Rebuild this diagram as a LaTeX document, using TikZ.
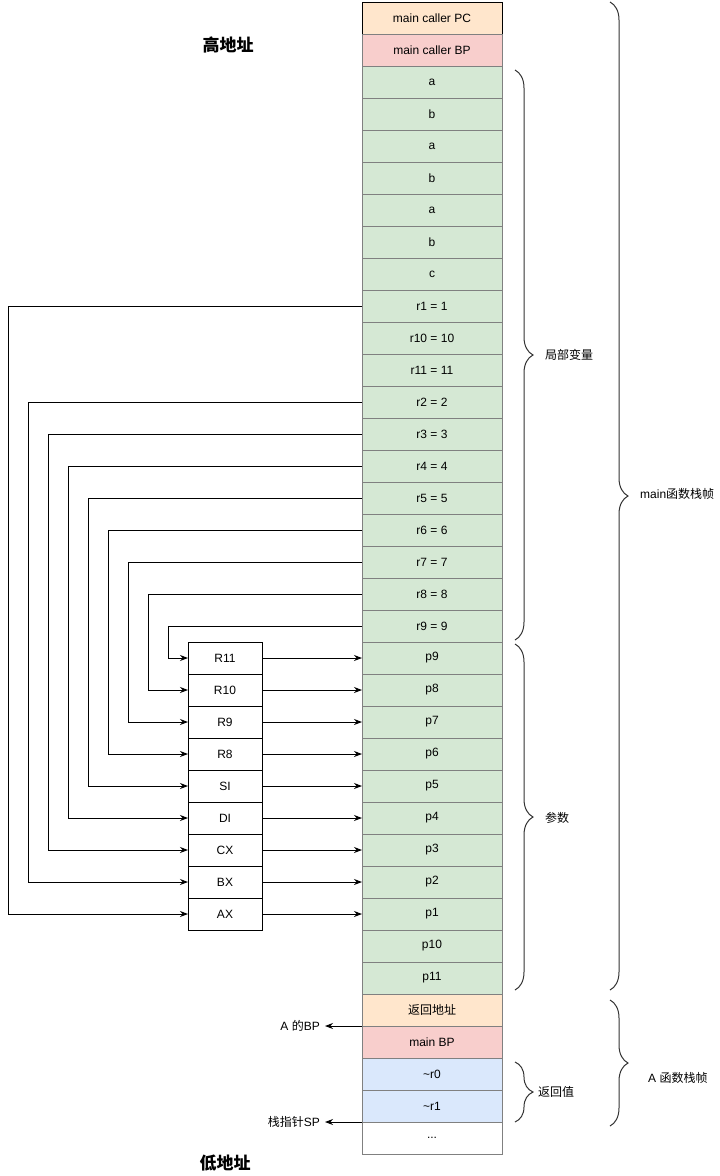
\documentclass[tikz,border=0pt]{standalone}
\usepackage{fontspec}
\setmainfont{Liberation Sans}
\newfontfamily\cjk{Noto Sans CJK SC}
\usepackage{xcolor}
\usetikzlibrary{arrows.meta,positioning,decorations.pathreplacing}

\definecolor{retfill}{HTML}{FFE6CC}
\definecolor{bpfill}{HTML}{F8CECC}
\definecolor{varfill}{HTML}{D5E8D4}
\definecolor{valfill}{HTML}{DAE8FC}

\begin{document}
\begin{tikzpicture}[
  x=1pt,y=-1pt,
  >={Stealth[length=8pt,width=6pt]},
  every node/.style={font=\fontsize{12}{14}\selectfont},
  cell/.style={draw=black!50,line width=1pt,minimum width=140pt,
               minimum height=32pt,inner sep=0pt,outer sep=0pt},
  ret/.style={cell,fill=retfill},
  bp/.style={cell,fill=bpfill},
  var/.style={cell,fill=varfill},
  val/.style={cell,fill=valfill},
  reg/.style={draw,line width=1pt,minimum width=74pt,
              minimum height=32pt,inner sep=0pt,outer sep=0pt},
  link/.style={line width=1pt,->},
  brc/.style={decorate,decoration={brace,amplitude=18pt},
              draw=black!80,line width=1pt},
  tag/.style={anchor=west,inner sep=0pt},
  ptr/.style={anchor=east,inner xsep=5pt,inner ysep=0pt},
  bigtag/.style={font=\cjk\bfseries\fontsize{17}{20}\selectfont}
]
\useasboundingbox (0,0) rectangle (720,1176);

% ---- stack: main frame ----
\node[ret,draw=black] (pc) at (432,18) {main caller PC};
\node[bp,below=0pt of pc]      (callerbp) {main caller BP};
\node[var,below=0pt of callerbp] (a1)  {a};
\node[var,below=0pt of a1]     (b1)  {b};
\node[var,below=0pt of b1]     (a2)  {a};
\node[var,below=0pt of a2]     (b2)  {b};
\node[var,below=0pt of b2]     (a3)  {a};
\node[var,below=0pt of a3]     (b3)  {b};
\node[var,below=0pt of b3]     (c)   {c};
\node[var,below=0pt of c]      (r1)  {r1 = 1};
\node[var,below=0pt of r1]     (r10) {r10 = 10};
\node[var,below=0pt of r10]    (r11) {r11 = 11};
\node[var,below=0pt of r11]    (r2)  {r2 = 2};
\node[var,below=0pt of r2]     (r3)  {r3 = 3};
\node[var,below=0pt of r3]     (r4)  {r4 = 4};
\node[var,below=0pt of r4]     (r5)  {r5 = 5};
\node[var,below=0pt of r5]     (r6)  {r6 = 6};
\node[var,below=0pt of r6]     (r7)  {r7 = 7};
\node[var,below=0pt of r7]     (r8)  {r8 = 8};
\node[var,below=0pt of r8]     (r9)  {r9 = 9};
\node[var,below=0pt of r9]     (p9)  {p9};
\node[var,below=0pt of p9]     (p8)  {p8};
\node[var,below=0pt of p8]     (p7)  {p7};
\node[var,below=0pt of p7]     (p6)  {p6};
\node[var,below=0pt of p6]     (p5)  {p5};
\node[var,below=0pt of p5]     (p4)  {p4};
\node[var,below=0pt of p4]     (p3)  {p3};
\node[var,below=0pt of p3]     (p2)  {p2};
\node[var,below=0pt of p2]     (p1)  {p1};
\node[var,below=0pt of p1]     (p10) {p10};
\node[var,below=0pt of p10]    (p11) {p11};

% ---- stack: A frame ----
\node[ret,below=0pt of p11]    (retaddr) {\cjk 返回地址};
\node[bp,below=0pt of retaddr] (mainbp)  {main BP};
\node[val,below=0pt of mainbp] (rr0)     {\textasciitilde r0};
\node[val,below=0pt of rr0]    (rr1)     {\textasciitilde r1};
\node[cell,below=0pt of rr1]   (dots)    {...};

% ---- registers ----
\node[reg] (x11) at (225,658) {R11};
\node[reg,below=0pt of x11] (x10) {R10};
\node[reg,below=0pt of x10] (x9)  {R9};
\node[reg,below=0pt of x9]  (x8)  {R8};
\node[reg,below=0pt of x8]  (si)  {SI};
\node[reg,below=0pt of si]  (di)  {DI};
\node[reg,below=0pt of di]  (cx)  {CX};
\node[reg,below=0pt of cx]  (bx)  {BX};
\node[reg,below=0pt of bx]  (ax)  {AX};

% locals -> registers
\draw[link] (r1.west) -- ++(-354,0) |- (ax.west);
\draw[link] (r2.west) -- ++(-334,0) |- (bx.west);
\draw[link] (r3.west) -- ++(-314,0) |- (cx.west);
\draw[link] (r4.west) -- ++(-294,0) |- (di.west);
\draw[link] (r5.west) -- ++(-274,0) |- (si.west);
\draw[link] (r6.west) -- ++(-254,0) |- (x8.west);
\draw[link] (r7.west) -- ++(-234,0) |- (x9.west);
\draw[link] (r8.west) -- ++(-214,0) |- (x10.west);
\draw[link] (r9.west) -- ++(-194,0) |- (x11.west);

% registers -> params
\draw[link] (x11.east) -- (p9.west);
\draw[link] (x10.east) -- (p8.west);
\draw[link] (x9.east)  -- (p7.west);
\draw[link] (x8.east)  -- (p6.west);
\draw[link] (si.east)  -- (p5.west);
\draw[link] (di.east)  -- (p4.west);
\draw[link] (cx.east)  -- (p3.west);
\draw[link] (bx.east)  -- (p2.west);
\draw[link] (ax.east)  -- (p1.west);

% ---- pointers ----
\node[ptr] (abp) at (325,1026) {A {\cjk 的}BP};
\node[ptr] (sp)  at (325,1122) {{\cjk 栈指针}SP};
\draw[link] (mainbp.north west) -- (abp.east);
\draw[link] (dots.north west)   -- (sp.east);

% ---- braces ----
\draw[brc] ([xshift=13pt,yshift=-4pt]a1.north east) -- ([xshift=13pt,yshift=2pt]r9.south east);
\draw[brc] ([xshift=13pt,yshift=-2pt]p9.north east) -- ([xshift=13pt,yshift=4pt]p11.south east);
\draw[brc] ([xshift=13pt,yshift=-4pt]rr0.north east) -- ([xshift=13pt]rr1.south east);
\draw[brc] ([xshift=108pt]pc.north east) -- ([xshift=108pt,yshift=4pt]p11.south east);
\draw[brc] ([xshift=108pt,yshift=-6pt]retaddr.north east) -- ([xshift=108pt,yshift=-4pt]rr1.south east);

% ---- labels ----
\node[tag] (localtag)  at (545,355)  {\cjk 局部变量};
\node[tag] (paramtag)  at (545,818)  {\cjk 参数};
\node[tag] (rettag)    at (538,1092) {\cjk 返回值};
\node[tag] (mainframe) at (640,494)  {main{\cjk 函数栈帧}};
\node[tag] (aframe)    at (648,1078) {A {\cjk 函数栈帧}};
\node[bigtag] (high) at (228,45)   {高地址};
\node[bigtag] (low)  at (225,1163) {低地址};

\end{tikzpicture}
\end{document}
